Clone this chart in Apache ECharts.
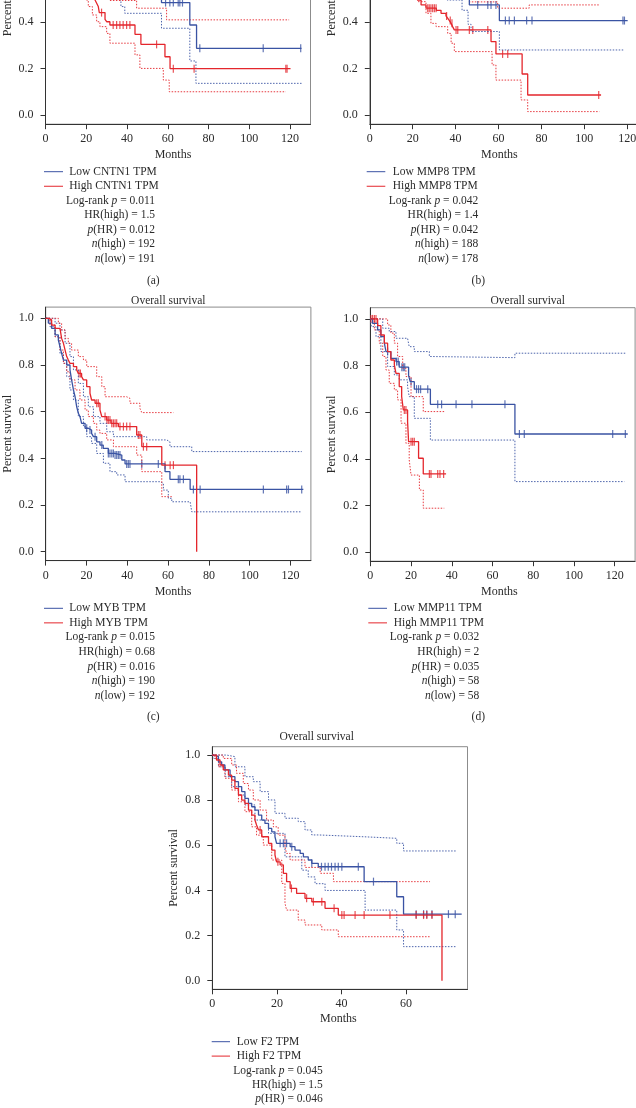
<!DOCTYPE html>
<html><head><meta charset="utf-8">
<script src="https://cdn.jsdelivr.net/npm/echarts@6/dist/echarts.min.js"></script>
<style>html,body{margin:0;padding:0;background:#fff}#c{width:636px;height:1108px}</style>
</head><body><div id="c"></div>
<script>
// ---------------- DATA ----------------
const X_TICKS_120 = [0, 20, 40, 60, 80, 100, 120];
const X_TICKS_60 = [0, 20, 40, 60];
const Y_TICKS = [0, 0.2, 0.4, 0.6, 0.8, 1.0];

// (a) CNTN1
const A_LOW = [[0,1],[4,0.97],[8,0.92],[12,0.86],[16,0.8],[20,0.75],[25,0.7],[30,0.65],[36,0.6],[42,0.56],[50,0.52],[56.9,0.483],[70.8,0.387],[74.1,0.287],[125.6,0.287]];
const A_LOW_UP = [[0,1],[10,0.97],[20,0.9],[30,0.82],[40,0.76],[56.9,0.66],[70.8,0.6],[74.1,0.55],[125.6,0.55]];
const A_LOW_DN = [[0,1],[5,0.93],[10,0.85],[15,0.77],[20,0.7],[25,0.63],[30,0.56],[35.7,0.494],[37,0.466],[38.9,0.437],[56.9,0.373],[70.8,0.233],[73.8,0.137],[125.6,0.137]];
const A_LOW_CENS = [58.9, 61.0, 62.7, 65.1, 65.9, 67.2, 75.7, 106.8, 125.2];
const A_HIGH = [[0,1],[3,0.96],[6,0.92],[9,0.87],[12,0.81],[15,0.75],[18,0.68],[21,0.6],[23,0.54],[24.3,0.494],[25.1,0.48],[25.9,0.466],[26.4,0.44],[29.2,0.411],[30.0,0.401],[31.6,0.387],[43.9,0.347],[46.8,0.304],[58.6,0.251],[61.1,0.2],[120.2,0.2]];
const A_HIGH_UP = [[0,1],[5,0.99],[10,0.95],[15,0.89],[20,0.8],[25,0.7],[28,0.6],[31.6,0.492],[44.7,0.459],[59.4,0.409],[119.5,0.409]];
const A_HIGH_DN = [[0,1],[4,0.92],[8,0.84],[12,0.74],[16,0.62],[19.4,0.494],[21,0.466],[23,0.43],[25.1,0.401],[26.7,0.38],[30,0.351],[31.6,0.309],[43.9,0.259],[46.3,0.201],[57.8,0.151],[60.7,0.101],[117.9,0.101]];
const A_HIGH_CENS = [27.5, 33.2, 34.9, 36.5, 38.1, 39.8, 41.4, 54.5, 62.7, 72.9, 117.9, 118.5];
const A_LEGEND = ['Low CNTN1 TPM', 'High CNTN1 TPM'];
const A_STATS = ['0.011', '1.5', '0.012', '192', '191'];

// (b) MMP8
const B_LOW = [[0,1],[5,0.96],[10,0.9],[15,0.84],[20,0.78],[25,0.72],[30,0.66],[35,0.6],[40,0.54],[46.4,0.473],[60.4,0.406],[120.2,0.406]];
const B_LOW_UP = [[0,1],[10,0.97],[20,0.9],[30,0.82],[46.4,0.7],[60.4,0.62],[120.2,0.62]];
const B_LOW_DN = [[0,1],[5,0.93],[10,0.85],[15,0.77],[20,0.69],[25,0.62],[30,0.56],[36,0.494],[43,0.45],[45.8,0.39],[47.2,0.359],[60.4,0.28],[118.7,0.28]];
const B_LOW_CENS = [50.3, 55.0, 56.5, 58.8, 63.2, 65.0, 67.4, 73.1, 75.6, 118.0, 118.7];
const B_HIGH = [[0,1],[4,0.96],[8,0.9],[12,0.82],[16,0.72],[20,0.6],[22.3,0.494],[23.9,0.473],[26.2,0.459],[31,0.45],[33.2,0.437],[35.5,0.426],[36.3,0.416],[37.1,0.406],[37.9,0.394],[38.6,0.38],[39.4,0.366],[56.5,0.316],[58.8,0.263],[71,0.177],[73.6,0.087],[107.8,0.087]];
const B_HIGH_UP = [[0,1],[5,0.99],[10,0.95],[15,0.86],[20,0.72],[25,0.6],[30,0.5],[46.4,0.486],[59.6,0.459],[71.3,0.459],[74.3,0.473],[106.7,0.473]];
const B_HIGH_DN = [[0,1],[4,0.9],[8,0.8],[12,0.7],[16,0.6],[20,0.53],[22.3,0.487],[26.2,0.437],[28.5,0.394],[30.9,0.38],[36.3,0.351],[37.9,0.309],[39.4,0.273],[57,0.216],[58.8,0.151],[70.5,0.066],[73.6,0.016],[107,0.016]];
const B_HIGH_CENS = [27.0, 27.7, 28.5, 29.3, 30.1, 30.9, 35.8, 37.5, 38.3, 40.2, 41.0, 46.4, 48.0, 55.0, 61.9, 64.3, 106.7];
const B_LEGEND = ['Low MMP8 TPM', 'High MMP8 TPM'];
const B_STATS = ['0.042', '1.4', '0.042', '188', '178'];

// (c) MYB
const C_LOW = [[0,1],[1.3,0.979],[2.9,0.957],[4.6,0.929],[6.2,0.907],[7.0,0.879],[7.8,0.85],[8.7,0.821],[10.3,0.8],[11.9,0.779],[12.7,0.736],[13.6,0.693],[14.4,0.664],[15.2,0.621],[16.0,0.593],[16.8,0.579],[17.6,0.55],[19.3,0.529],[20.9,0.521],[22.5,0.507],[23.4,0.493],[25.0,0.471],[26.6,0.457],[28.2,0.443],[30.7,0.421],[33.9,0.414],[37.3,0.393],[38.9,0.376],[58.5,0.343],[60.9,0.31],[70.8,0.267],[126.3,0.267]];
const C_LOW_UP = [[0,1],[2.1,1],[4.6,0.979],[7.0,0.95],[9.5,0.893],[11.9,0.836],[13.6,0.779],[16.0,0.721],[18.5,0.664],[20.9,0.621],[23.4,0.579],[26.6,0.55],[29.9,0.514],[33.2,0.493],[49.5,0.479],[59.3,0.471],[60.9,0.45],[71.6,0.429],[125.5,0.429]];
const C_LOW_DN = [[0,1],[2.1,0.964],[4.6,0.921],[7.0,0.85],[8.7,0.807],[10.3,0.75],[11.9,0.693],[13.6,0.65],[16.0,0.579],[18.5,0.536],[20.1,0.493],[22.5,0.464],[25,0.421],[28.3,0.379],[31.5,0.343],[34.8,0.329],[38.9,0.3],[56,0.293],[57.7,0.264],[60.1,0.229],[61.8,0.214],[70.8,0.207],[71.6,0.171],[125.5,0.171]];
const C_LOW_CENS = [20.1, 21.7, 24.2, 27.5, 30.7, 31.5, 32.4, 33.2, 34.0, 34.8, 35.6, 36.4, 39.7, 40.5, 41.3, 47.1, 55.2, 65.0, 65.8, 67.5, 72.4, 75.7, 106.7, 118.1, 119.0, 125.5];
const C_HIGH = [[0,1],[1.3,0.993],[2.9,0.971],[4.6,0.957],[7.0,0.95],[7.8,0.914],[8.7,0.893],[9.5,0.864],[10.3,0.836],[11.1,0.821],[11.9,0.807],[13.6,0.793],[15.2,0.779],[16.0,0.764],[17.6,0.75],[18.5,0.736],[20.1,0.707],[21.7,0.679],[22.5,0.65],[24.2,0.636],[26.6,0.607],[27.5,0.579],[29.9,0.564],[32.0,0.55],[35.6,0.536],[44.6,0.5],[47.1,0.45],[56.9,0.371],[74.0,0]];
const C_HIGH_UP = [[0,1],[3.8,1],[6.2,0.979],[7.8,0.95],[9.5,0.914],[11.1,0.893],[12.7,0.864],[16.0,0.836],[18.5,0.821],[20.1,0.793],[25,0.75],[27.5,0.707],[29.1,0.664],[39.7,0.657],[41.3,0.636],[46.2,0.614],[47.1,0.596],[62.6,0.596]];
const C_HIGH_DN = [[0,1],[2.1,0.971],[4.6,0.921],[7.0,0.864],[8.7,0.807],[10.3,0.771],[11.9,0.736],[14.4,0.693],[16.8,0.65],[19.3,0.607],[20.9,0.579],[23.4,0.55],[25.0,0.521],[26.6,0.507],[29.9,0.479],[33.2,0.45],[44.6,0.414],[47.1,0.343],[56.9,0.236],[61.8,0.236]];
const C_HIGH_CENS = [16.3, 17.0, 25.0, 25.8, 29.1, 30.0, 30.7, 31.5, 32.4, 33.2, 34.0, 34.8, 36.4, 38.1, 39.7, 41.3, 45.4, 46.2, 47.9, 49.5, 58.5, 61.0, 62.6];
const C_LEGEND = ['Low MYB TPM', 'High MYB TPM'];
const C_STATS = ['0.015', '0.68', '0.016', '190', '192'];

// (d) MMP11
const D_LOW = [[0,1],[1.1,0.981],[3.6,0.953],[5.2,0.924],[6.9,0.896],[7.7,0.86],[10.1,0.831],[12.6,0.817],[14.2,0.793],[18.8,0.757],[19.6,0.731],[21.6,0.699],[29.5,0.634],[71.0,0.507],[126.4,0.507]];
const D_LOW_UP = [[0,1],[6.1,0.96],[9.3,0.946],[12.6,0.917],[18.3,0.91],[19.1,0.881],[21.6,0.86],[29.0,0.839],[29.8,0.834],[71.0,0.853],[125.5,0.853]];
const D_LOW_DN = [[0,1],[0.5,0.967],[2.8,0.924],[5.2,0.86],[8.5,0.796],[11.8,0.76],[14.2,0.739],[18.3,0.71],[19.1,0.667],[21.6,0.574],[29.5,0.481],[71.0,0.303],[124.7,0.303]];
const D_LOW_CENS = [8.5, 12.9, 13.7, 15.5, 16.2, 16.9, 20.0, 22.7, 23.7, 24.7, 28.2, 33.1, 35.0, 42.1, 49.9, 66.1, 73.2, 75.6, 119.0, 125.2];
const D_HIGH = [[0,1],[3.6,0.971],[5.2,0.931],[6.9,0.896],[8.5,0.86],[10.1,0.824],[11.8,0.803],[12.6,0.767],[14.2,0.71],[15.4,0.667],[16.2,0.61],[18.3,0.56],[18.8,0.474],[23.7,0.403],[26.0,0.336],[37.2,0.336]];
const D_HIGH_UP = [[0,1],[6.9,1],[8.5,0.974],[10.1,0.939],[11.8,0.896],[13.4,0.839],[15.9,0.789],[17.5,0.753],[20.0,0.667],[26.0,0.603],[36.3,0.603]];
const D_HIGH_DN = [[0,1],[2.0,0.953],[4.4,0.896],[6.1,0.839],[7.7,0.781],[9.3,0.724],[11.8,0.696],[13.4,0.653],[15.1,0.553],[17.5,0.467],[19.1,0.396],[20.0,0.331],[24.1,0.267],[26.0,0.189],[36.3,0.189]];
const D_HIGH_CENS = [0.3, 1.1, 2.0, 2.8, 16.7, 17.5, 20.0, 20.8, 21.6, 29.0, 29.8, 33.1, 34.2, 36.0];
const D_LEGEND = ['Low MMP11 TPM', 'High MMP11 TPM'];
const D_STATS = ['0.032', '2', '0.035', '58', '58'];

// (e) F2
const E_LOW = [[0,1],[0.8,0.993],[1.9,0.970],[2.9,0.956],[3.9,0.934],[5.5,0.904],[7.0,0.882],[8.1,0.860],[9.1,0.838],[10.1,0.808],[11.2,0.786],[12.2,0.771],[13.2,0.756],[14.3,0.734],[15.3,0.712],[16.3,0.697],[17.4,0.675],[18.4,0.660],[19.4,0.638],[19.9,0.609],[24.1,0.594],[25.6,0.579],[27.2,0.564],[28.2,0.549],[29.7,0.535],[30.8,0.520],[32.8,0.505],[47.0,0.439],[57.1,0.372],[59.2,0.295],[77.2,0.295]];
const E_LOW_UP = [[0,1],[4.4,0.993],[7.0,0.948],[10.1,0.904],[12.7,0.882],[14.8,0.838],[17.4,0.801],[19.4,0.742],[22.5,0.72],[26.6,0.705],[28.7,0.668],[30.8,0.646],[32.8,0.638],[46.8,0.631],[57.1,0.609],[59.2,0.575],[75.7,0.575]];
const E_LOW_DN = [[0,1],[0.5,0.985],[2.0,0.948],[4.0,0.904],[6.0,0.86],[8.1,0.823],[10.1,0.779],[13.2,0.712],[17.4,0.653],[22.5,0.549],[27.7,0.49],[29.7,0.46],[31.8,0.43],[34.9,0.40],[47.3,0.313],[57.1,0.225],[59.2,0.151],[75.7,0.151]];
const E_LOW_CENS = [21.0, 22.0, 23.0, 24.6, 30.8, 33.8, 34.9, 35.9, 36.9, 38.0, 39.0, 40.1, 45.2, 49.9, 63.1, 65.4, 66.4, 68.0, 73.1, 75.2];
const E_HIGH = [[0,1],[1.3,0.978],[2.4,0.956],[3.4,0.934],[5.0,0.911],[6.0,0.889],[7.0,0.852],[8.1,0.823],[9.1,0.8],[10.1,0.786],[11.2,0.756],[12.2,0.734],[13.2,0.712],[13.7,0.69],[14.3,0.668],[15.3,0.638],[17.4,0.609],[18.4,0.579],[19.4,0.557],[19.9,0.527],[21.0,0.513],[22.0,0.476],[23.0,0.439],[24.1,0.409],[26.1,0.387],[28.7,0.365],[30.8,0.35],[34.9,0.321],[39.0,0.291],[71.1,0]];
const E_HIGH_UP = [[0,1],[3.4,0.985],[6.0,0.956],[7.5,0.919],[9.6,0.874],[11.2,0.845],[12.7,0.801],[14.8,0.756],[16.8,0.712],[18.9,0.682],[20.4,0.645],[22.5,0.594],[23.0,0.564],[24.1,0.535],[28.7,0.502],[33.4,0.476],[37.5,0.439],[67.4,0.439]];
const E_HIGH_DN = [[0,1],[0.8,0.985],[1.9,0.948],[3.9,0.897],[6.0,0.845],[8.1,0.793],[10.1,0.749],[12.2,0.682],[13.7,0.645],[15.8,0.601],[18.4,0.535],[21.5,0.431],[22.5,0.343],[23.0,0.313],[26.6,0.269],[28.7,0.247],[33.9,0.225],[39.0,0.195],[67.4,0.195]];
const E_HIGH_CENS = [14.8, 20.3, 24.5, 29.2, 31.3, 33.9, 37.7, 40.1, 40.8, 44.2, 47.0, 55.0, 63.1, 65.4, 66.4, 68.0];
const E_LEGEND = ['Low F2 TPM', 'High F2 TPM'];
const E_STATS = ['0.045', '1.5', '0.046'];

// ---------------- STYLE / LAYOUT ----------------
const BLUE = '#3a53a3', RED = '#e4262c';
const FONT = '"Liberation Serif", "DejaVu Serif", serif';
const TXT = '#2b2b2b';

const PANELS = [
  {low:A_LOW, lowUp:A_LOW_UP, lowDn:A_LOW_DN, lowC:A_LOW_CENS, high:A_HIGH, highUp:A_HIGH_UP, highDn:A_HIGH_DN, highC:A_HIGH_CENS,
   legend:A_LEGEND, stats:A_STATS, tag:'(a)', xTicks:X_TICKS_120,
   grid:{left:45.5, top:-129.3, width:265, height:253.5}, xMax:130, yMin:-0.038, yMax:1.048,
   title:null, months:[173,155], lx:[44,63,69.3], sr:155, ly0:171.7, dy:14.55, tagPos:[153.3,280.7]},
  {low:B_LOW, lowUp:B_LOW_UP, lowDn:B_LOW_DN, lowC:B_LOW_CENS, high:B_HIGH, highUp:B_HIGH_UP, highDn:B_HIGH_DN, highC:B_HIGH_CENS,
   legend:B_LEGEND, stats:B_STATS, tag:'(b)', xTicks:X_TICKS_120,
   grid:{left:369.8, top:-129.3, width:278.9, height:253.5}, xMax:130, yMin:-0.038, yMax:1.048,
   title:null, months:[499.3,155], lx:[366.7,385.3,392.7], sr:478.3, ly0:171.7, dy:14.55, tagPos:[478.3,280.7]},
  {low:C_LOW, lowUp:C_LOW_UP, lowDn:C_LOW_DN, lowC:C_LOW_CENS, high:C_HIGH, highUp:C_HIGH_UP, highDn:C_HIGH_DN, highC:C_HIGH_CENS,
   legend:C_LEGEND, stats:C_STATS, tag:'(c)', xTicks:X_TICKS_120,
   grid:{left:45.7, top:307.1, width:265.2, height:253.5}, xMax:130, yMin:-0.038, yMax:1.048,
   title:[168.3,300.7], months:[173,591.7], lx:[44,63,69.3], sr:155, ly0:608.3, dy:14.57, tagPos:[153.3,717]},
  {low:D_LOW, lowUp:D_LOW_UP, lowDn:D_LOW_DN, lowC:D_LOW_CENS, high:D_HIGH, highUp:D_HIGH_UP, highDn:D_HIGH_DN, highC:D_HIGH_CENS,
   legend:D_LEGEND, stats:D_STATS, tag:'(d)', xTicks:X_TICKS_120,
   grid:{left:370.3, top:307.7, width:264.8, height:253.5}, xMax:130, yMin:-0.038, yMax:1.048,
   title:[527.7,300.7], months:[499.3,591.7], lx:[368.3,387,393.7], sr:479.3, ly0:608.3, dy:14.57, tagPos:[478.3,717]},
  {low:E_LOW, lowUp:E_LOW_UP, lowDn:E_LOW_DN, lowC:E_LOW_CENS, high:E_HIGH, highUp:E_HIGH_UP, highDn:E_HIGH_DN, highC:E_HIGH_CENS,
   legend:E_LEGEND, stats:E_STATS, tag:null, xTicks:X_TICKS_60,
   grid:{left:212.3, top:746.7, width:255.2, height:242.6}, xMax:79, yMin:-0.038, yMax:1.037,
   title:[316.7,737.3], months:[338.3,1019], lx:[211.7,230,236.7], sr:322.7, ly0:1041.7, dy:14.4, tagPos:null}
];

function survAt(curve, t) {
  let y = curve[0][1];
  for (const p of curve) { if (p[0] <= t) y = p[1]; else break; }
  return y;
}

const grids = [], xAxes = [], yAxes = [], series = [], graphics = [];
function txt(text, x, y, align, size, extra) {
  graphics.push(Object.assign({
    type:'text', silent:true,
    style:{text, x, y, fill:TXT, fontSize:size, fontFamily:FONT,
           align, textAlign:align, verticalAlign:'middle', textVerticalAlign:'middle',
           rich:{i:{fontStyle:'italic', fontSize:size, fontFamily:FONT, fill:TXT}}}
  }, extra || {}));
}

PANELS.forEach((p, i) => {
  grids.push(Object.assign({show:true, borderColor:'#8c8c8c', borderWidth:1, backgroundColor:'transparent',
    containLabel:false, outerBoundsMode:'none'}, p.grid));
  xAxes.push({gridIndex:i, type:'value', min:0, max:p.xMax,
    axisLine:{show:true, onZero:false, lineStyle:{color:'#333', width:1}},
    axisTick:{show:true, inside:false, length:5, customValues:p.xTicks, lineStyle:{color:'#333'}},
    axisLabel:{show:true, customValues:p.xTicks, margin:9, color:TXT, fontSize:12, fontFamily:FONT},
    splitLine:{show:false}});
  yAxes.push({gridIndex:i, type:'value', min:p.yMin, max:p.yMax,
    name:'Percent survival', nameLocation:'middle', nameGap:32, nameRotate:90,
    nameTextStyle:{color:TXT, fontSize:12, fontFamily:FONT},
    axisLine:{show:true, onZero:false, lineStyle:{color:'#333', width:1}},
    axisTick:{show:true, inside:false, length:5, customValues:Y_TICKS, lineStyle:{color:'#333'}},
    axisLabel:{show:true, customValues:Y_TICKS, margin:12, color:TXT, fontSize:12, fontFamily:FONT,
      formatter:v => v.toFixed(1)},
    splitLine:{show:false}});

  const line = (data, color, dotted) => ({
    type:'line', xAxisIndex:i, yAxisIndex:i, data, step:'end', showSymbol:false, symbol:'none',
    silent:true, animation:false, clip:true,
    lineStyle:{color, width:dotted ? 1 : 1.3, type:dotted ? [1.5, 1.5] : 'solid', opacity:dotted ? 0.9 : 1}
  });
  const cens = (times, curve, color) => ({
    type:'scatter', xAxisIndex:i, yAxisIndex:i, silent:true, animation:false, clip:true,
    symbol:'rect', symbolSize:[1.2, 8],
    itemStyle:{color},
    data:times.map(t => [t, survAt(curve, t)])
  });
  series.push(line(p.lowUp, BLUE, true), line(p.lowDn, BLUE, true),
              line(p.highUp, RED, true), line(p.highDn, RED, true),
              line(p.low, BLUE, false), line(p.high, RED, false),
              cens(p.lowC, p.low, BLUE), cens(p.highC, p.high, RED));

  if (p.title) txt('Overall survival', p.title[0], p.title[1], 'center', 11.5);
  txt('Months', p.months[0], p.months[1], 'center', 12);
  // legend
  const cols = [BLUE, RED];
  p.legend.forEach((lab, k) => {
    const y = p.ly0 + k * p.dy;
    graphics.push({type:'line', silent:true, shape:{x1:p.lx[0], y1:y, x2:p.lx[1], y2:y},
      style:{stroke:cols[k], lineWidth:1}});
    txt(lab, p.lx[2], y, 'left', 11.5);
  });
  const tmpl = [
    v => 'Log-rank {i|p} = ' + v,
    v => 'HR(high) = ' + v,
    v => '{i|p}(HR) = ' + v,
    v => '{i|n}(high) = ' + v,
    v => '{i|n}(low) = ' + v
  ];
  p.stats.forEach((v, k) => {
    txt(tmpl[k](v), p.sr, p.ly0 + (k + 2) * p.dy, 'right', 11.5);
  });
  if (p.tag) txt(p.tag, p.tagPos[0], p.tagPos[1], 'center', 11.5);
});

const chart = echarts.init(document.getElementById('c'), null, {renderer:'canvas'});
chart.setOption({
  animation:false,
  backgroundColor:'#ffffff',
  grid:grids, xAxis:xAxes, yAxis:yAxes, series, graphic:graphics
});
</script></body></html>
